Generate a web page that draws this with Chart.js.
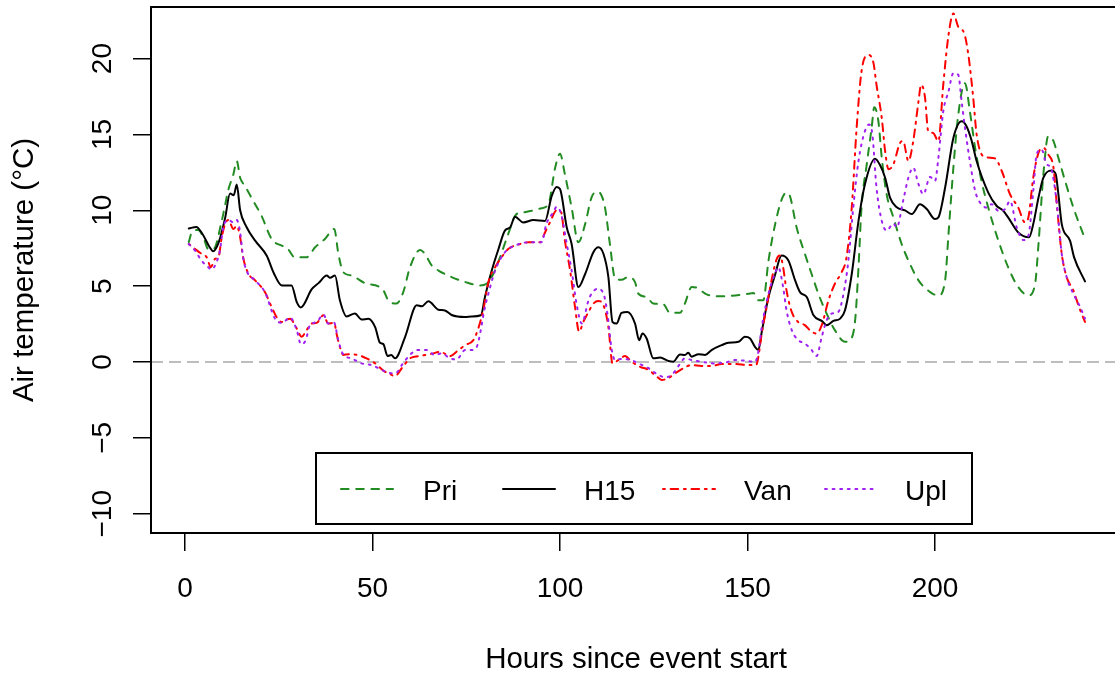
<!DOCTYPE html>
<html>
<head>
<meta charset="utf-8">
<title>Air temperature</title>
<script src="https://cdn.jsdelivr.net/npm/chart.js@4.4.1/dist/chart.umd.min.js"></script>
<style>
  html, body { margin: 0; padding: 0; background: #fff; overflow: hidden; }
  canvas { display: block; }
</style>
</head>
<body>
<canvas id="grafica" width="1130" height="677"></canvas>
<script>
// ticks de los ejes
var xTicks = [0, 50, 100, 150, 200]
var yTicks = [-10, -5, 0, 5, 10, 15, 20]
var nombres = ['Pri', 'H15', 'Van', 'Upl']

// Pri (verde)
var priHoras = [1, 1.8, 3.5, 4.9, 6.2, 7.6, 9.8, 11.6, 12.9, 13.8,
  14.7, 16, 18.2, 20.4, 23.1, 25.8, 27.1, 29.3, 32.4, 34.7,
  37.3, 39.8, 40.9, 42.2, 44.4, 48, 51.6, 52.9, 54.2, 56.4,
  58.2, 60, 62.7, 64, 65.8, 67.6, 71.1, 74.7, 78.7, 80.4,
  82.2, 84, 86.2, 88.4, 90.2, 92.4, 95.1, 96.9, 98.7, 100,
  101.3, 103.1, 104.9, 106.7, 108.4, 109.8, 110.9, 112, 113.3, 114.7,
  116.4, 118.2, 120, 120.9, 123.1, 124.9, 127.6, 129.3, 132, 133.3,
  135.1, 136.4, 139.1, 142.2, 146.7, 150.2, 151.6, 152.9, 154.2, 155.6,
  157.3, 159.1, 160.4, 161.3, 163.1, 165.3, 167.1, 168.9, 170.7, 173.3,
  176, 177.3, 178.7, 179.6, 180.4, 181.8, 183.1, 183.8, 184.9, 185.8,
  187.1, 188.9, 191.1, 192.9, 195.6, 198.7, 200.9, 202.7, 203.6, 204.9,
  206.2, 208, 209.3, 210.7, 212.4, 214.2, 216.9, 219.5, 222.2, 224.9,
  226.7, 227.6, 228.9, 230.2, 231.6, 232.9, 234.7, 236.9, 240]
var priTemp = [7.9, 8.54, 8.7, 8.22, 7.45, 7.45, 9.31, 11.39, 12.37, 13.25,
  12.15, 11.6, 10.62, 9.64, 8.11, 7.67, 7.56, 6.9, 6.9, 7.56,
  8.11, 8.77, 7.12, 5.92, 5.7, 5.2, 4.98, 4.72, 4.07, 3.85,
  4.61, 6.25, 7.39, 7.12, 6.36, 6.03, 5.6, 5.27, 5.05, 5.16,
  5.8, 6.9, 8.44, 9.75, 9.86, 9.97, 10.14, 10.4, 12.8, 13.73,
  12.37, 10.18, 7.89, 9.09, 10.84, 11.23, 11.06, 10.18, 7.78, 5.49,
  5.42, 5.6, 5.27, 4.5, 4.28, 3.85, 3.8, 3.24, 3.24, 3.85,
  4.94, 4.9, 4.46, 4.33, 4.39, 4.5, 4.55, 4.07, 4.07, 6.69,
  9.0, 10.7, 11.17, 10.95, 8.87, 7.13, 5.8, 4.5, 3.41, 2.1,
  1.33, 1.44, 2.75, 6.25, 10.18, 13.03, 15.43, 16.79, 15.87, 13.46,
  11.06, 9.53, 7.78, 6.69, 5.38, 4.61, 4.39, 5.38, 8.44, 12.81,
  16.3, 18.38, 16.52, 14.12, 11.93, 10.18, 8.0, 6.25, 4.94, 4.39,
  5.16, 7.78, 12.37, 14.89, 14.56, 13.46, 11.93, 10.18, 8.11]

// H15 (negro)
var h15Horas = [1, 3, 4.5, 6.5, 7.5, 9, 10.7, 12, 13, 13.8,
  14.7, 16.4, 18.7, 21.8, 23.6, 25.8, 28.4, 29.8, 30.9, 33.8,
  35.6, 37.8, 38.7, 40, 41.3, 43.1, 45.3, 47.1, 48.9, 50.7,
  52, 52.9, 54, 55, 56, 58.7, 61.8, 63.1, 64.9, 67.6,
  69.3, 71.1, 74.7, 76.4, 78.9, 80, 81.8, 83.6, 85.3, 86.7,
  88, 90.2, 92.9, 96, 97.8, 99.1, 100, 101.8, 103.1, 104.9,
  106.7, 108.9, 110.2, 111.6, 112.9, 114, 115.1, 116.4, 118, 120,
  121.1, 122, 123.1, 124.9, 126.7, 128.9, 130.2, 132, 133.3, 134.2,
  135.1, 136.9, 138.7, 140.4, 143.1, 144.9, 147.6, 149.3, 150.7, 152,
  152.9, 153.8, 155.6, 157.3, 159.1, 160.9, 162.7, 164, 165.8, 167.6,
  169.8, 171.1, 172.9, 174.7, 176, 177.8, 179.6, 181.3, 184, 185.3,
  186.7, 188, 189.8, 192, 193.8, 196, 197.8, 200, 200.9, 202.7,
  204.9, 207.1, 208.4, 209.8, 211.1, 214.2, 216.4, 218.2, 219.5, 222.2,
  225.1, 226.2, 227.6, 228.9, 231.1, 232.2, 232.9, 233.8, 236, 237.1,
  240]
var h15Temp = [8.8, 8.9, 8.5, 7.6, 7.3, 7.9, 9.5, 11.1, 11.0, 11.7,
  10.0, 8.9, 8.0, 7.0, 5.9, 5.05, 5.05, 3.95, 3.6, 4.8,
  5.2, 5.7, 5.55, 5.7, 4.07, 3.0, 3.2, 2.8, 2.85, 2.3,
  1.27, 1.18, 0.4, 0.46, 0.24, 1.66, 3.74, 3.67, 4.0, 3.45,
  3.4, 3.1, 2.97, 3.0, 3.08, 4.3, 6.03, 7.45, 8.66, 8.87,
  9.57, 9.2, 9.36, 9.3, 10.95, 11.54, 11.4, 8.87, 7.78, 4.94,
  5.8, 7.23, 7.56, 7.12, 5.6, 2.64, 2.54, 3.24, 3.3, 2.54,
  1.44, 1.88, 1.55, 0.24, 0.3, 0.07, 0.02, 0.5, 0.46, 0.61,
  0.35, 0.52, 0.46, 0.79, 1.11, 1.27, 1.33, 1.66, 1.55, 1.0,
  0.79, 1.99, 4.28, 5.7, 7.02, 6.69, 5.38, 4.61, 4.28, 3.08,
  2.71, 2.43, 2.71, 2.86, 3.41, 5.8, 9.3, 11.7, 13.4, 13.0,
  12.15, 10.84, 10.2, 10.0, 9.75, 10.4, 10.08, 9.42, 9.53, 11.5,
  14.77, 15.87, 15.54, 14.56, 13.25, 11.17, 10.3, 9.97, 9.53, 8.54,
  8.22, 9.09, 10.84, 12.15, 12.63, 12.37, 11.06, 9.09, 8.0, 6.9,
  5.31]

// Van (rojo)
var vanHoras = [1, 2.7, 4.4, 5.8, 6.9, 8, 8.9, 9.8, 10.7, 11.6,
  12.9, 13.8, 14.7, 15.5, 16.9, 18.7, 21.3, 23.1, 24.4, 25.8,
  28, 29.8, 31.1, 32.4, 33.8, 35.1, 36.9, 38.2, 39.8, 40.4,
  41.3, 42.2, 43.6, 46.2, 48.4, 50.7, 52.9, 54.2, 56, 57.8,
  60, 62.2, 64, 66.2, 68, 70.7, 72.4, 74.7, 76.9, 78.2,
  79.6, 80.9, 82.7, 84.4, 86.2, 88.9, 91.6, 94.7, 96, 97.3,
  99.1, 100.3, 101.3, 102.7, 104, 105.1, 106.2, 107.6, 108.9, 110.2,
  111.6, 112.9, 114, 115.6, 117.3, 119.1, 121.3, 123.6, 125.8, 127.1,
  128.9, 130.7, 132.9, 135.1, 137.8, 140.4, 143.1, 146.7, 150.2, 152.3,
  152.9, 153.8, 155.1, 156.4, 157.8, 158.7, 159.5, 160.4, 161.8, 163.5,
  165.3, 167.1, 168.4, 169.8, 171.6, 173.3, 175.1, 176.4, 177.8, 179.1,
  180.4, 182.2, 183.6, 184.4, 185.8, 186.7, 187.6, 188.9, 190.7, 191.5,
  192.9, 194.2, 195.6, 196.3, 197.3, 198.2, 199.5, 200.9, 202.2, 203.6,
  204.9, 206.2, 207.8, 208.9, 210.2, 211.1, 212.9, 216, 217.8, 220,
  222.2, 224, 224.9, 226.2, 227.6, 228.9, 230.2, 231.6, 232.4, 233.8,
  235.1, 236.9, 238.4, 240]
var vanTemp = [7.78, 7.45, 7.13, 6.9, 6.25, 6.8, 6.9, 8.22, 9.1, 9.36,
  8.77, 8.98, 8.22, 6.9, 5.82, 5.38, 4.61, 3.63, 2.97, 2.64,
  2.86, 2.21, 1.66, 2.1, 2.54, 2.58, 3.08, 2.54, 2.58, 1.88,
  1.0, 0.46, 0.52, 0.46, 0.24, -0.09, -0.57, -0.74, -0.92, -0.41,
  0.24, 0.39, 0.46, 0.57, 0.68, 0.39, 0.68, 1.11, 1.44, 2.21,
  3.5, 5.27, 6.25, 6.9, 7.45, 7.74, 7.89, 7.89, 8.54, 9.2,
  10.0, 9.86, 8.0, 6.03, 3.63, 1.99, 2.64, 3.3, 3.85, 4.02,
  3.74, 2.31, -0.09, 0.13, 0.39, 0.02, -0.31, -0.52, -0.96, -1.18,
  -1.07, -0.74, -0.41, -0.2, -0.26, -0.26, -0.13, -0.13, -0.2, -0.2,
  0.35, 1.88, 3.63, 5.38, 6.8, 7.02, 6.25, 4.72, 3.3, 2.64,
  2.43, 1.99, 1.88, 2.43, 4.07, 5.16, 5.92, 6.9, 10.18, 15.43,
  19.15, 20.24, 19.7, 18.27, 16.09, 13.9, 12.7, 13.03, 14.45, 14.56,
  13.25, 14.56, 17.18, 18.27, 17.5, 15.21, 15.1, 14.56, 18.27, 21.55,
  22.97, 22.1, 21.66, 20.24, 17.4, 15.0, 13.57, 13.42, 12.59, 11.06,
  10.18, 9.2, 9.53, 12.15, 13.79, 14.12, 13.68, 12.81, 10.62, 7.13,
  5.6, 4.72, 3.63, 2.64]

// Upl (morado)
var uplHoras = [1, 2.7, 4.4, 6.2, 7.1, 8.4, 9.3, 10.2, 11.6, 12.9,
  13.8, 14.7, 15.5, 16.4, 18.7, 21.3, 24, 25.8, 28, 29.8,
  30.9, 32.2, 33.3, 35.1, 36.9, 38.2, 39.8, 40.8, 42.2, 44.4,
  47.1, 49.8, 52.9, 55.1, 56.4, 57.8, 60.4, 62.2, 64.4, 66.7,
  68.4, 70.7, 72.4, 74.7, 76.4, 77.8, 78.7, 79.8, 80.9, 82.7,
  85.3, 88, 91.6, 95.1, 96.4, 98.2, 99.1, 100.3, 101.8, 103.1,
  104.4, 105.8, 107.6, 108.4, 110, 111.6, 112.7, 113.8, 114.7, 116.4,
  119, 120.9, 123.6, 126.2, 128, 129.8, 131.6, 133.3, 135.1, 137.8,
  140.9, 144, 146.7, 149.3, 152, 152.9, 153.8, 155.6, 157.3, 158.2,
  159.5, 160.4, 161.8, 163.5, 165.3, 167.1, 168.4, 169.8, 171.1, 172.4,
  174.2, 175.6, 176.9, 178.2, 179.6, 181.3, 182.4, 183.3, 184.4, 185.8,
  187.1, 188.9, 189.8, 191.5, 192.9, 194.2, 195.6, 196.9, 198.7, 200,
  200.9, 202.2, 203.6, 204.9, 206.2, 207.1, 208, 209.3, 210.7, 212,
  213.8, 215.1, 216.9, 218.7, 220, 221.8, 223.6, 224.9, 226.2, 227.1,
  228.4, 229.8, 230.9, 232.4, 233.8, 235.1, 236.9, 238.7, 240]
var uplTemp = [7.78, 7.34, 6.69, 6.25, 6.1, 6.58, 7.34, 8.87, 9.36, 9.2,
  9.36, 8.55, 6.9, 6.03, 5.38, 4.61, 2.86, 2.58, 2.93, 2.1,
  1.18, 1.44, 2.43, 2.64, 3.13, 2.54, 2.58, 1.5, 0.5, 0.24,
  -0.09, -0.2, -0.57, -0.74, -0.7, -0.2, 0.57, 0.79, 0.79, 0.46,
  0.57, 0.24, 0.17, 0.79, 0.79, 1.0, 1.88, 3.41, 4.5, 6.03,
  7.23, 7.67, 7.89, 7.9, 9.13, 9.86, 10.23, 9.75, 7.78, 6.03,
  3.85, 2.54, 4.07, 4.5, 4.83, 4.5, 3.08, 0.79, 0.13, 0.2,
  0.13, -0.09, -0.41, -0.85, -1.0, -0.85, -0.26, 0.24, 0.13, 0.02,
  -0.09, -0.04, 0.13, 0.09, 0.02, 0.68, 2.3, 4.5, 5.82, 6.25,
  4.94, 3.41, 2.1, 1.44, 1.22, 0.79, 0.39, 1.66, 2.75, 3.19,
  3.3, 4.5, 6.69, 10.18, 13.25, 15.21, 15.65, 15.0, 11.5, 9.31,
  8.66, 9.13, 8.87, 10.62, 12.15, 12.81, 11.72, 11.06, 12.2, 11.93,
  13.46, 16.52, 17.84, 19.04, 18.93, 17.18, 15.43, 13.25, 11.28, 10.51,
  10.18, 10.4, 9.97, 10.08, 10.62, 8.87, 8.04, 8.33, 11.28, 13.68,
  14.01, 13.03, 12.81, 10.62, 7.13, 5.6, 4.5, 3.63, 2.86]

var fuente = '"Liberation Sans", Arial, Helvetica, sans-serif'

function puntos(horas, temps){
  var out = []
  for (var i = 0; i < horas.length; i++){
    out.push({x: horas[i], y: temps[i]})
  }
  return out
}

function etiqueta(v){
  return v < 0 ? '\u2212' + Math.abs(v) : String(v)
}

// ejes, caja, textos y leyenda al estilo de R
var estiloR = {
  id: 'estiloR',
  beforeDatasetsDraw: function(chart){
    var ctx = chart.ctx
    var a = chart.chartArea
    var y0 = chart.scales.y.getPixelForValue(0)
    ctx.save()
    ctx.beginPath()
    ctx.rect(a.left, a.top, a.right - a.left, a.bottom - a.top)
    ctx.clip()
    ctx.strokeStyle = '#bebebe'
    ctx.lineWidth = 2
    ctx.setLineDash([12, 6])
    ctx.beginPath()
    ctx.moveTo(a.left, y0)
    ctx.lineTo(a.right, y0)
    ctx.stroke()
    ctx.restore()
  },
  afterDraw: function(chart){
    var ctx = chart.ctx
    var a = chart.chartArea
    var sx = chart.scales.x
    var sy = chart.scales.y
    ctx.save()

    // caja
    ctx.strokeStyle = '#000'
    ctx.lineWidth = 2
    ctx.setLineDash([])
    ctx.strokeRect(a.left, a.top, a.right - a.left, a.bottom - a.top)

    ctx.fillStyle = '#000'
    ctx.font = '28px ' + fuente
    ctx.textBaseline = 'alphabetic'

    // etiquetas eje x
    ctx.textAlign = 'center'
    xTicks.forEach(function(v){
      ctx.fillText(etiqueta(v), sx.getPixelForValue(v), 597)
    })

    // etiquetas eje y (giradas)
    yTicks.forEach(function(v){
      ctx.save()
      ctx.translate(110.7, sy.getPixelForValue(v))
      ctx.rotate(-Math.PI / 2)
      ctx.fillText(etiqueta(v), 0, 0)
      ctx.restore()
    })

    // titulos
    ctx.font = '29.5px ' + fuente
    ctx.fillText('Hours since event start', (a.left + a.right) / 2, 668)
    ctx.save()
    ctx.translate(33, (a.top + a.bottom) / 2)
    ctx.rotate(-Math.PI / 2)
    ctx.fillText('Air temperature (\u00B0C)', 0, 0)
    ctx.restore()

    // leyenda
    ctx.font = '28px ' + fuente
    ctx.lineWidth = 2
    ctx.strokeRect(316, 453, 656, 71)
    var lineaX = [341, 503, 663, 825]
    var textoX = [423, 584, 744, 905]
    ctx.textAlign = 'left'
    chart.data.datasets.forEach(function(ds, i){
      ctx.strokeStyle = ds.borderColor
      ctx.lineWidth = ds.borderWidth
      ctx.lineCap = 'round'
      ctx.setLineDash(ds.borderDash)
      ctx.beginPath()
      ctx.moveTo(lineaX[i], 489)
      ctx.lineTo(lineaX[i] + 52, 489)
      ctx.stroke()
      ctx.setLineDash([])
      ctx.fillStyle = '#000'
      ctx.fillText(ds.label, textoX[i], 500)
    })
    ctx.restore()
  }
}

var colores = ['#228b22', '#000000', '#ff0000', '#a020f0']
var guiones = [[7.6, 7.6], [], [1.9, 5.7, 7.6, 5.7], [1.9, 5.7]]
var datos = [puntos(priHoras, priTemp), puntos(h15Horas, h15Temp), puntos(vanHoras, vanTemp), puntos(uplHoras, uplTemp)]

var datasets = nombres.map(function(n, i){
  return {
    label: n,
    data: datos[i],
    borderColor: colores[i],
    borderWidth: 2,
    borderDash: guiones[i],
    borderCapStyle: 'round',
    borderJoinStyle: 'round',
    pointRadius: 0,
    fill: false,
    cubicInterpolationMode: 'monotone',
    order: 4 - i
  }
})

function ejeTicks(lista){
  return function(scale){
    scale.ticks = lista.map(function(v){ return {value: v} })
  }
}

new Chart(document.getElementById('grafica').getContext('2d'), {
  type: 'line',
  data: { datasets: datasets },
  options: {
    responsive: false,
    animation: false,
    devicePixelRatio: 1,
    layout: { padding: { left: 0, top: 7, right: 9, bottom: 0 } },
    plugins: { legend: { display: false }, tooltip: { enabled: false } },
    scales: {
      x: {
        type: 'linear',
        min: -9.07,
        max: 249.6,
        afterBuildTicks: ejeTicks(xTicks),
        afterFit: function(s){ s.height = 144 },
        ticks: { display: false },
        border: { display: false },
        grid: { drawOnChartArea: false, drawTicks: true, tickLength: 18, color: '#000', lineWidth: 1.5 }
      },
      y: {
        type: 'linear',
        min: -11.27,
        max: 23.4,
        afterBuildTicks: ejeTicks(yTicks),
        afterFit: function(s){ s.width = 151 },
        ticks: { display: false },
        border: { display: false },
        grid: { drawOnChartArea: false, drawTicks: true, tickLength: 18, color: '#000', lineWidth: 1.5 }
      }
    }
  },
  plugins: [estiloR]
})
</script>
</body>
</html>
